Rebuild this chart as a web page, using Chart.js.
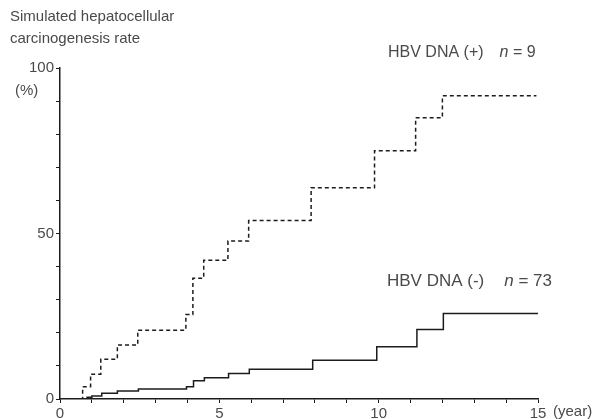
<!DOCTYPE html>
<html>
<head>
<meta charset="utf-8">
<script src="https://cdn.jsdelivr.net/npm/chart.js@4.4.0/dist/chart.umd.min.js"></script>
<style>
  html, body { margin: 0; padding: 0; background: #fff; }
</style>
</head>
<body>
<canvas id="grafico" width="598" height="419"></canvas>
<script>
  // HBV DNA (+) n = 9 -- curva tracejada (ano do degrau, taxa %)
  const anosPositivo = [0, 0.71, 0.96, 1.28, 1.80, 2.44, 3.95, 4.17, 4.51, 5.27, 5.92, 7.88, 9.87, 11.16, 12.00, 14.95];
  const taxaPositivo = [0, 3.7, 7.5, 12.0, 16.3, 20.8, 25.5, 36.5, 41.9, 47.7, 53.9, 63.8, 75.0, 85.0, 91.6, 91.6];

  // HBV DNA (-) n = 73 -- curva continua
  const anosNegativo = [0, 0.85, 1.00, 1.31, 1.80, 2.46, 3.97, 4.19, 4.53, 5.29, 5.94, 7.93, 9.94, 11.20, 12.03, 15.00];
  const taxaNegativo = [0, 0.5, 0.9, 1.7, 2.4, 3.0, 3.7, 5.5, 6.4, 7.7, 9.0, 11.7, 15.8, 21.0, 25.8, 25.8];

  const ticksX = [0, 5, 10, 15];
  const ticksY = [0, 50, 100];

  const corTexto = "#4a4a4a";
  const corLinha = "#1c1c1c";
  const fonte = "'Liberation Sans', Arial, sans-serif";

  const pontos = (xs, ys) => xs.map((x, i) => ({ x: x, y: ys[i] }));

  // textos soltos: titulo, unidades e rotulos das curvas
  const textos = {
    id: "textos",
    afterDraw(chart) {
      const ctx = chart.ctx;
      ctx.save();
      ctx.fillStyle = corTexto;
      ctx.textBaseline = "middle";
      ctx.textAlign = "left";

      ctx.font = `15px ${fonte}`;
      ctx.fillText("Simulated hepatocellular", 10, 17);
      ctx.fillText("carcinogenesis rate", 10, 39);

      ctx.fillText("(%)", 15, 91);
      ctx.fillText("(year)", 553, 412);

      function rotulo(texto, n, x, y, tam, espaco) {
        ctx.font = `${tam}px ${fonte}`;
        ctx.fillText(texto, x, y);
        let px = x + ctx.measureText(texto).width + espaco;
        ctx.font = `italic ${tam}px ${fonte}`;
        ctx.fillText("n", px, y);
        px += ctx.measureText("n").width;
        ctx.font = `${tam}px ${fonte}`;
        ctx.fillText(" = " + n, px, y);
      }
      rotulo("HBV DNA (+)", 9, 388, 53, 16, 16);
      rotulo("HBV DNA (-)", 73, 387, 281, 17, 20);
      ctx.restore();
    }
  };

  new Chart(document.getElementById("grafico"), {
    type: "line",
    data: {
      datasets: [
        {
          label: "HBV DNA (+)",
          data: pontos(anosPositivo, taxaPositivo),
          stepped: "before",
          borderColor: corLinha,
          borderWidth: 1.5,
          borderDash: [4, 3],
          pointRadius: 0,
          fill: false
        },
        {
          label: "HBV DNA (-)",
          data: pontos(anosNegativo, taxaNegativo),
          stepped: "before",
          borderColor: corLinha,
          borderWidth: 1.5,
          pointRadius: 0,
          fill: false
        }
      ]
    },
    options: {
      responsive: false,
      animation: false,
      devicePixelRatio: 1,
      layout: { padding: { top: 68, right: 60, left: 0, bottom: 0 } },
      plugins: {
        legend: { display: false },
        tooltip: { enabled: false }
      },
      scales: {
        x: {
          type: "linear",
          min: 0,
          max: 15,
          afterFit: escala => { escala.height = 20; },
          grid: { drawOnChartArea: false, drawTicks: true, tickLength: 4, color: corLinha },
          border: { display: true, color: corLinha, width: 1.5 },
          ticks: {
            stepSize: 1,
            autoSkip: false,
            maxRotation: 0,
            padding: 2,
            color: corTexto,
            font: { family: fonte, size: 15 },
            callback: valor => ticksX.includes(valor) ? String(valor) : ""
          }
        },
        y: {
          min: 0,
          max: 100,
          afterFit: escala => { escala.width = 60; },
          grid: { drawOnChartArea: false, drawTicks: true, tickLength: 4, color: corLinha },
          border: { display: true, color: corLinha, width: 1.5 },
          ticks: {
            stepSize: 10,
            autoSkip: false,
            padding: 2,
            color: corTexto,
            font: { family: fonte, size: 15 },
            callback: valor => ticksY.includes(valor) ? String(valor) : ""
          }
        }
      }
    },
    plugins: [textos]
  });
</script>
</body>
</html>
